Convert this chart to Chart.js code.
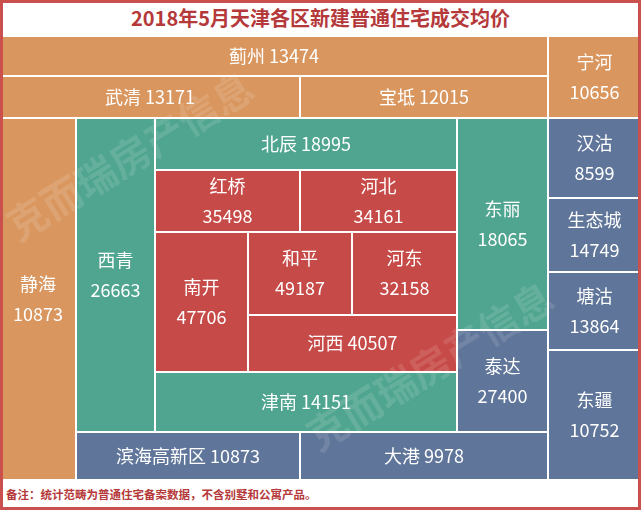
<!DOCTYPE html>
<html><head><meta charset="utf-8">
<script src="https://cdn.jsdelivr.net/npm/chart.js@4"></script>
<style>
body{margin:0;width:641px;height:510px;background:#fff;font-family:"Noto Sans CJK SC",sans-serif;overflow:hidden;position:relative}
#title{position:absolute;left:0;top:0;width:641px;height:36px;text-align:center;line-height:35px;font-size:20px;font-weight:bold;color:#b5393a}
#wrap{position:absolute;left:0;top:36px;width:641px;height:444px}
#foot{position:absolute;left:6px;top:486px;font-size:11.5px;color:#b5393a;font-weight:bold}
#frame{position:absolute;left:0;top:0;width:635px;height:504px;border:3px solid #c9504c;pointer-events:none}
</style></head><body>
<div id="title">2018年5月天津各区新建普通住宅成交均价</div>
<div id="wrap"><canvas id="c"></canvas></div>
<div id="foot">备注：统计范畴为普通住宅备案数据，不含别墅和公寓产品。</div>
<div id="frame"></div>
<script>
// district names, average prices (元/㎡) and colour group
const districts = ["蓟州","宁河","武清","宝坻","静海","西青","北辰","红桥","河北","南开","和平","河东","河西","津南","东丽","泰达","汉沽","生态城","塘沽","东疆","滨海高新区","大港"];
const prices = [13474,10656,13171,12015,10873,26663,18995,35498,34161,47706,49187,32158,40507,14151,18065,27400,8599,14749,13864,10752,10873,9978];
const groups = ["远郊","远郊","远郊","远郊","远郊","环城","环城","市内","市内","市内","市内","市内","市内","环城","环城","滨海","滨海","滨海","滨海","滨海","滨海","滨海"];
// label split onto two lines?
const twoLine = [false,true,false,false,true,true,false,true,true,true,true,true,false,false,true,true,true,true,true,true,false,false];

const groupColors = {"远郊":"#d9975f","环城":"#4fa590","市内":"#c64a47","滨海":"#5f7599"};
// layout boxes [x0,y0,x1,y1] in picture units
const boxes = [
  [0,36,548,76],[548,36,641,118],[0,76,300,118],[300,76,548,118],
  [0,118,76,480],[76,118,155,432],[155,118,457,170],[155,170,300,232],
  [300,170,457,232],[155,232,248,372],[248,232,352,315],[352,232,457,315],
  [248,315,457,372],[155,372,457,432],[457,118,548,330],[457,330,548,432],
  [548,118,641,198],[548,198,641,272],[548,272,641,350],[548,350,641,480],
  [76,432,300,480],[300,432,548,480]
];

const cellPlugin = {
  id: "cells",
  beforeDatasetsDraw(chart) {
    const {ctx, scales: {x, y}} = chart;
    ctx.save();
    boxes.forEach((b, i) => {
      const x0 = x.getPixelForValue(b[0]), x1 = x.getPixelForValue(b[2]);
      const y0 = y.getPixelForValue(b[1]), y1 = y.getPixelForValue(b[3]);
      ctx.fillStyle = groupColors[groups[i]];
      ctx.fillRect(x0, y0, x1 - x0, y1 - y0);
      ctx.strokeStyle = "#fff";
      ctx.lineWidth = 2;
      ctx.strokeRect(x0, y0, x1 - x0, y1 - y0);
      ctx.fillStyle = "#fff";
      ctx.font = '18px "Noto Sans CJK SC"';
      ctx.textAlign = "center";
      ctx.textBaseline = "middle";
      const cx = (x0 + x1) / 2, cy = (y0 + y1) / 2;
      if (twoLine[i]) {
        ctx.fillText(districts[i], cx, cy - 15);
        ctx.fillText(String(prices[i]), cx, cy + 15);
      } else {
        ctx.fillText(districts[i] + " " + prices[i], cx, cy);
      }
    });
    // watermark
    ctx.globalAlpha = 0.12;
    ctx.fillStyle = "#fff";
    ctx.font = 'bold 40px "Noto Sans CJK SC"';
    [[130, 120], [430, 330]].forEach(([px, py]) => {
      ctx.save();
      ctx.translate(px, py);
      ctx.rotate(-0.55);
      ctx.fillText("克而瑞房产信息", 0, 0);
      ctx.restore();
    });
    ctx.restore();
  }
};

new Chart(document.getElementById("c"), {
  type: "scatter",
  data: {
    datasets: [{
      data: boxes.map((b, i) => ({x: (b[0] + b[2]) / 2, y: (b[1] + b[3]) / 2, v: prices[i]})),
      pointRadius: 0
    }]
  },
  options: {
    responsive: true,
    maintainAspectRatio: false,
    animation: false,
    layout: { padding: 0 },
    plugins: { legend: { display: false }, tooltip: { enabled: false } },
    scales: {
      x: { type: "linear", min: 0, max: 641, display: false },
      y: { type: "linear", min: 36, max: 480, reverse: true, display: false }
    }
  },
  plugins: [cellPlugin]
});
</script>
</body></html>
